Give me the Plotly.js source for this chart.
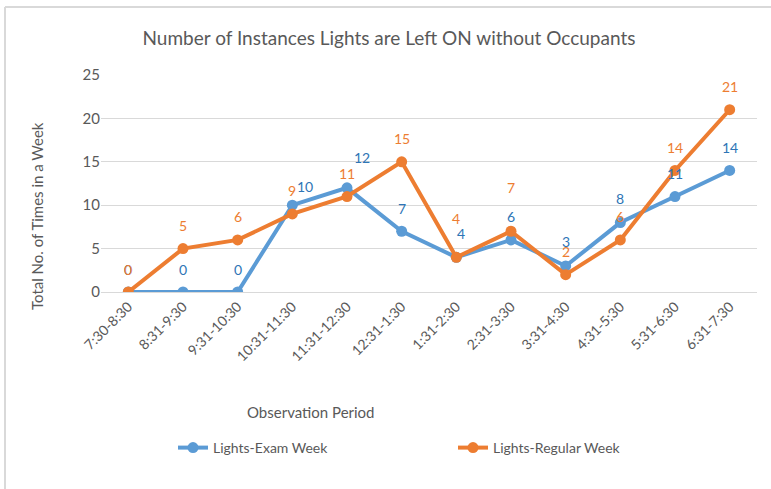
<!DOCTYPE html>
<html>
<head>
<meta charset="utf-8">
<script src="https://cdn.plot.ly/plotly-3.0.1.min.js"></script>
<style>html,body{margin:0;padding:0;background:#fff;}#chart{width:771px;height:489px;}</style>
</head>
<body>
<div id="chart"></div>
<script>
var periods = ["7:30-8:30","8:31-9:30","9:31-10:30","10:31-11:30","11:31-12:30","12:31-1:30","1:31-2:30","2:31-3:30","3:31-4:30","4:31-5:30","5:31-6:30","6:31-7:30"];
var examWeek = [0,0,0,10,12,7,4,6,3,8,11,14];
var regularWeek = [0,5,6,9,11,15,4,7,2,6,14,21];
var yTicks = [0,5,10,15,20,25];

// label placement offsets (px), kept apart from data
var examLabelDy = [23,23,23,19,30,23,24,23,24,24,23,23];
var examLabelDx = [0,0,0,13,15,0,5,0,0,0,0,0];
var regLabelDy = [23,23,23,23,23,23,39,44,23,23,23,23];
var regLabelDx = [0,0,0,0,0,0,0,0,0,0,0,0];

var FONT = "Lato, 'Open Sans', sans-serif";
var BLUE = "#5B9BD5", ORANGE = "#ED7D31";
var BLUE_TXT = "#2E75B6", ORANGE_TXT = "#ED7D31";
var GREY = "#595959";

var traces = [
  {x: periods, y: examWeek, name: "Lights-Exam Week", type: "scatter", mode: "lines+markers",
   line: {color: BLUE, width: 4}, marker: {color: BLUE, size: 11}},
  {x: periods, y: regularWeek, name: "Lights-Regular Week", type: "scatter", mode: "lines+markers",
   line: {color: ORANGE, width: 4}, marker: {color: ORANGE, size: 11}}
];

var annotations = [];
examWeek.forEach(function(v, i){
  annotations.push({x: periods[i], y: v, xref: "x", yref: "y", text: String(v), showarrow: false,
    yshift: examLabelDy[i], xshift: examLabelDx[i], font: {family: FONT, size: 14, color: BLUE_TXT}});
});
regularWeek.forEach(function(v, i){
  annotations.push({x: periods[i], y: v, xref: "x", yref: "y", text: String(v), showarrow: false,
    yshift: regLabelDy[i], xshift: regLabelDx[i], font: {family: FONT, size: 14, color: ORANGE_TXT}});
});
// axis titles
annotations.push({xref: "paper", yref: "paper", x: (311-101)/656, y: -(412-292)/217, text: "Observation Period",
  showarrow: false, font: {family: FONT, size: 15, color: GREY}, xanchor: "center", yanchor: "middle"});
annotations.push({xref: "paper", yref: "paper", x: (37-101)/656, y: (292-216)/217, text: "Total No. of Times in a Week",
  showarrow: false, textangle: -90, font: {family: FONT, size: 15, color: GREY}, xanchor: "center", yanchor: "middle"});

var layout = {
  width: 771, height: 489,
  margin: {l: 101, r: 14, t: 75, b: 197},
  paper_bgcolor: "#fff", plot_bgcolor: "#fff",
  font: {family: FONT, color: GREY},
  title: {text: "Number of Instances Lights are Left ON without Occupants", x: 389/771, xanchor: "center",
    y: 1 - 38/489, yanchor: "middle", font: {family: FONT, size: 19, color: GREY}},
  xaxis: {type: "category", tickangle: -45, tickfont: {family: FONT, size: 14, color: GREY},
    showgrid: false, showline: true, linecolor: "#D9D9D9", linewidth: 1, ticks: "", zeroline: false,
    range: [-0.5, 11.5], fixedrange: true},
  yaxis: {range: [0, 25], tickvals: yTicks, tickfont: {family: FONT, size: 15, color: GREY},
    showgrid: true, gridcolor: "#D9D9D9", gridwidth: 1, zeroline: false, showline: false, ticks: "",
    ticklen: 0, automargin: false},
  showlegend: true,
  legend: {orientation: "h", x: (173-101)/656, xanchor: "left", y: -(448-292)/217, yanchor: "middle",
    font: {family: FONT, size: 14, color: GREY}, entrywidth: 235, entrywidthmode: "pixels", bgcolor: "rgba(0,0,0,0)"},
  annotations: annotations,
  shapes: [
    {type: "line", xref: "paper", yref: "paper", x0: (5-101)/656, x1: (771-101)/656, y0: (292-7)/217, y1: (292-7)/217,
      line: {color: "#D9D9D9", width: 2}},
    {type: "line", xref: "paper", yref: "paper", x0: (5-101)/656, x1: (5-101)/656, y0: (292-7)/217, y1: -(489-292)/217,
      line: {color: "#D9D9D9", width: 2}}
  ]
};

Plotly.newPlot("chart", traces, layout, {displayModeBar: false, staticPlot: true});
</script>
</body>
</html>
